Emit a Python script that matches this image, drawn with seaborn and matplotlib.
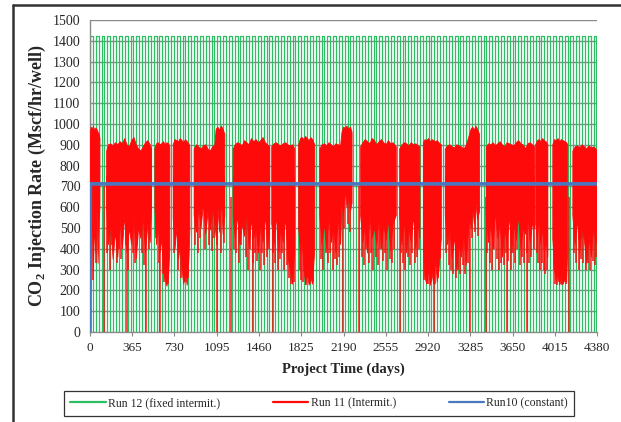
import numpy as np
import pandas as pd
import matplotlib
matplotlib.use("Agg")
import matplotlib.pyplot as plt
from matplotlib.lines import Line2D
import seaborn as sns

# ---------------- data ----------------
x_ticks = [0, 365, 730, 1095, 1460, 1825, 2190, 2555, 2920, 3285, 3650, 4015, 4380]
y_ticks = list(range(0, 1501, 100))

# Run 12: fixed intermittent schedule
green_on_rate = 1425
green_cycle_days = 50
green_on_days = 25
green_end_day = 4380

# Run 10: constant
blue_days = [0, 3, 4380]
blue_rate = [0, 712, 712]

# Run 11: intermittent, band envelope (NaN separates injection periods)
red_day = [
    0, 10, 20, 30, 40, 50, 60, 70, 80, 86, np.nan,
    144, 160, 180, 200, 220, 240, 260, 280, 300, 320, 340, 360, 380, 400, 420, 440, 460, 480, 500, 520, 532, np.nan,
    561, 575, 590, 605, 620, 635, 650, 665, 680, 690, np.nan,
    719, 735, 750, 765, 780, 795, 810, 825, 840, 855, 863, np.nan,
    900, 920, 940, 960, 980, 1000, 1020, 1040, 1060, 1079,
    1090, 1105, 1120, 1135, 1150, 1165, np.nan,
    1237, 1255, 1275, 1295, 1315, 1335, 1355, 1375, 1395, 1415, 1435, 1455, 1475, 1495, 1515, 1535, 1553, np.nan,
    1570, 1590, 1610, 1630, 1650, 1670, 1690, 1710, 1730, 1750, 1769, np.nan,
    1803, 1818, 1833, 1848, 1863, 1878, 1893, 1908, 1923, 1942, np.nan,
    1985, 2005, 2025, 2045, 2065, 2085, 2105, 2125, 2145, 2165, 2177,
    2190, 2205, 2220, 2235, 2250, 2264, np.nan,
    2338, 2358, 2378, 2398, 2418, 2438, 2458, 2478, 2498, 2518, 2538, 2558, 2578, 2598, 2618, 2646, np.nan,
    2675, 2695, 2715, 2735, 2755, 2775, 2795, 2815, 2835, 2850, np.nan,
    2880, 2895, 2910, 2925, 2940, 2955, 2970, 2985, 3000, 3015, 3035, np.nan,
    3069, 3089, 3109, 3129, 3149, 3169, 3189, 3209, 3229, 3249, 3279,
    3292, 3306, 3320, 3334, 3348, 3365, np.nan,
    3423, 3443, 3463, 3483, 3503, 3523, 3543, 3563, 3583, 3603, 3623, 3643, 3663, 3683, 3703, 3723, 3743, 3763, 3783, 3803, 3823, 3840, np.nan,
    3850, 3865, 3880, 3895, 3910, 3925, 3940, 3955, np.nan,
    3998, 4013, 4028, 4043, 4058, 4073, 4088, 4103, 4118, 4127, np.nan,
    4171, 4191, 4211, 4231, 4251, 4271, 4291, 4311, 4331, 4351, 4371, 4380,
]
red_hi = [
    940, 985, 975, 990, 970, 980, 975, 960, 950, 930, np.nan,
    870, 900, 905, 895, 910, 900, 915, 905, 930, 900, 890, 920, 935, 900, 880, 870, 890, 910, 920, 900, 880, np.nan,
    880, 905, 910, 900, 905, 915, 900, 910, 905, 890, np.nan,
    900, 925, 920, 915, 930, 920, 910, 925, 915, 905, 890, np.nan,
    880, 900, 890, 880, 895, 900, 880, 870, 890, 900,
    975, 985, 970, 990, 975, 950, np.nan,
    880, 900, 910, 905, 895, 920, 910, 900, 930, 915, 925, 910, 920, 935, 910, 900, 890, np.nan,
    890, 905, 910, 900, 895, 905, 910, 900, 895, 900, 880, np.nan,
    900, 930, 935, 925, 940, 930, 920, 935, 925, 900, np.nan,
    880, 900, 905, 895, 910, 900, 890, 905, 900, 895, 960,
    985, 980, 990, 975, 985, 960, np.nan,
    890, 910, 925, 915, 905, 930, 920, 900, 915, 925, 910, 900, 920, 905, 910, 890, np.nan,
    880, 900, 910, 905, 895, 910, 900, 905, 895, 890, np.nan,
    910, 925, 920, 930, 915, 925, 920, 915, 920, 910, 900, np.nan,
    880, 895, 900, 890, 885, 900, 895, 890, 880, 895, 950,
    975, 985, 970, 990, 975, 950, np.nan,
    890, 905, 900, 910, 895, 905, 915, 900, 890, 910, 905, 900, 895, 910, 920, 905, 900, 880, 905, 910, 900, 890, np.nan,
    900, 920, 925, 915, 930, 920, 915, 900, np.nan,
    900, 925, 920, 930, 915, 925, 920, 915, 910, 900, np.nan,
    870, 890, 895, 885, 900, 890, 880, 895, 885, 890, 880, 870,
]
red_lo = [
    700, 420, 560, 300, 520, 380, 600, 330, 540, 600, np.nan,
    600, 420, 520, 350, 480, 360, 540, 400, 560, 380, 500, 420, 560, 350, 500, 450, 560, 380, 520, 430, 600, np.nan,
    600, 420, 520, 380, 450, 300, 250, 220, 280, 400, np.nan,
    550, 400, 500, 350, 420, 300, 230, 280, 225, 350, 500, np.nan,
    560, 480, 600, 500, 620, 470, 580, 490, 600, 520,
    460, 600, 480, 650, 470, 560, np.nan,
    550, 450, 560, 420, 520, 460, 580, 400, 540, 450, 500, 380, 520, 430, 560, 400, 520, np.nan,
    520, 420, 560, 380, 500, 430, 550, 360, 300, 230, 400, np.nan,
    500, 380, 450, 300, 230, 280, 225, 260, 230, 400, np.nan,
    560, 420, 520, 400, 560, 430, 500, 380, 550, 420, 620,
    560, 680, 600, 650, 580, 620, np.nan,
    560, 430, 520, 380, 560, 450, 500, 420, 560, 400, 520, 440, 540, 390, 520, 560, np.nan,
    560, 420, 540, 380, 500, 430, 560, 400, 520, 450, np.nan,
    400, 260, 230, 300, 225, 280, 230, 350, 240, 300, 450, np.nan,
    560, 420, 500, 350, 460, 300, 420, 360, 480, 320, 560,
    500, 600, 520, 620, 540, 580, np.nan,
    560, 430, 520, 400, 580, 450, 520, 360, 500, 420, 560, 380, 520, 440, 560, 400, 500, 470, 560, 430, 520, 500, np.nan,
    520, 450, 560, 420, 500, 380, 440, 360, np.nan,
    450, 300, 240, 280, 225, 300, 230, 260, 240, 400, np.nan,
    560, 420, 540, 380, 500, 440, 330, 460, 360, 500, 420, 480,
]
# Run 11 narrow downward spikes within injection periods
red_spike_day = [
    5, 25, 55,
    150, 170, 190, 230, 250, 270, 310, 330, 370, 390, 410, 450, 470, 510,
    568, 598, 628, 642, 672,
    727, 758, 788, 818, 848,
    910, 930, 950, 990, 1030, 1050, 1070,
    1098, 1128, 1158,
    1245, 1265, 1285, 1305, 1345, 1365, 1385, 1405, 1425, 1445, 1465, 1485, 1505, 1525, 1545,
    1580, 1600, 1620, 1640, 1660, 1680, 1700, 1720, 1740, 1760,
    1810, 1825, 1840, 1870, 1900, 1930,
    1995, 2015, 2035, 2055, 2075, 2095, 2115, 2135, 2155,
    2198, 2228, 2243,
    2348, 2368, 2388, 2408, 2428, 2448, 2468, 2488, 2508, 2528, 2548, 2568, 2588, 2608, 2630,
    2685, 2705, 2725, 2745, 2765, 2785, 2805, 2825, 2842,
    2888, 2918, 2948, 2978, 3008, 3025,
    3079, 3099, 3119, 3139, 3159, 3179, 3199, 3219, 3239, 3262,
    3299, 3327, 3355,
    3433, 3453, 3473, 3493, 3513, 3533, 3553, 3573, 3593, 3613, 3633, 3653, 3673, 3693, 3713, 3733, 3753, 3773, 3793, 3813, 3832,
    3858, 3873, 3888, 3903, 3918, 3933, 3948,
    4005, 4020, 4035, 4050, 4065, 4080, 4095, 4110,
    4181, 4201, 4221, 4241, 4261, 4281, 4301, 4321, 4341, 4361, 4375,
]
red_spike_low = [
    300, 250, 330,
    380, 300, 420, 330, 400, 350, 420, 300, 380, 330, 420, 380, 320, 400,
    450, 330, 280, 240, 230,
    380, 300, 260, 240, 260,
    420, 380, 450, 400, 420, 390, 450,
    420, 380, 430,
    400, 380, 330, 420, 360, 300, 400, 330, 380, 340, 300, 380, 320, 360, 400,
    380, 330, 300, 350, 380, 300, 320, 260, 230, 240,
    300, 250, 240, 225, 230, 240,
    350, 300, 380, 330, 380, 300, 350, 320, 360,
    500, 520, 480,
    360, 320, 400, 330, 380, 300, 360, 320, 400, 340, 380, 300, 350, 330, 400,
    380, 330, 300, 360, 320, 380, 330, 360, 400,
    250, 230, 240, 230, 260, 350,
    380, 320, 300, 280, 260, 300, 280, 320, 280, 330,
    450, 480, 460,
    380, 330, 300, 400, 350, 300, 330, 320, 380, 340, 300, 380, 330, 400, 320, 360, 330, 380, 330, 360, 400,
    380, 330, 300, 330, 300, 280, 300,
    300, 230, 225, 240, 230, 225, 240, 230,
    380, 330, 300, 350, 330, 300, 330, 300, 340, 320, 360,
]
# Run 11 shut-in drops to zero
red_drop_day = [121, 324, 480, 604, 1096, 1222, 1407, 1578, 2182, 2321, 2675,
                2968, 3279, 3417, 3603, 3772, 4142]
red_drop_top = [700, 600, 600, 600, 600, 650, 600, 600, 650, 700, 600,
                600, 600, 650, 600, 600, 650]

labels = ["Run 12 (fixed intermit.)", "Run 11 (Intermit.)", "Run10 (constant)"]
c_green = "#2DBE63"
c_red = "#FF0A0A"
c_blue = "#4A78BE"

# ---------------- build green step schedule ----------------
g_t, g_v = [], []
for start in range(0, green_end_day, green_cycle_days):
    stop = min(start + green_on_days, green_end_day)
    g_t += [start, start, stop, stop]
    g_v += [0, green_on_rate, green_on_rate, 0]
green_df = pd.DataFrame({"day": g_t, "rate": g_v})
blue_df = pd.DataFrame({"day": blue_days, "rate": blue_rate})

# ---------------- style ----------------
sns.set_theme(style="white")
plt.rcParams["font.family"] = ["Liberation Serif", "DejaVu Serif"]
plt.rcParams["mathtext.fontset"] = "custom"
plt.rcParams["mathtext.rm"] = "Liberation Serif"
plt.rcParams["mathtext.bf"] = "Liberation Serif:bold"

fig = plt.figure(figsize=(6.21, 4.22), dpi=100)
ax = fig.add_axes([0.1449, 0.2133, 0.8165, 0.7393])

# gridlines
for yv in y_ticks[1:]:
    ax.axhline(yv, color="#8A8A8A", lw=1.0, zorder=0)

sns.lineplot(data=green_df, x="day", y="rate", ax=ax, color=c_green, lw=0.9,
             estimator=None, sort=False, zorder=2)

rd = np.array(red_day, dtype=float)
rh = np.array(red_hi, dtype=float)
rl = np.array(red_lo, dtype=float)
ax.vlines(red_drop_day, 0, red_drop_top, color=c_red, lw=1.2, alpha=0.85, zorder=3)
ax.fill_between(rd, rl, rh, color=c_red, lw=0.6, edgecolor=c_red, zorder=4)
ax.vlines(red_spike_day, red_spike_low, 750, color=c_red, lw=1.1, zorder=4)

sns.lineplot(data=blue_df, x="day", y="rate", ax=ax, color=c_blue, lw=2.6,
             estimator=None, sort=False, zorder=5)

ax.set_xlim(0, 4380)
ax.set_ylim(0, 1500)
ax.set_xticks(x_ticks)
ax.set_xticklabels([str(t) for t in x_ticks], fontsize=9.5)
ax.set_yticks(y_ticks)
ax.set_yticklabels([str(t) for t in y_ticks], fontsize=10)
ax.tick_params(axis="x", length=3, width=0.8, color="#8A8A8A", pad=4, direction="out", bottom=True)
ax.tick_params(axis="y", length=0, pad=7)
for s in ["top", "right"]:
    ax.spines[s].set_visible(False)
for s in ["left", "bottom"]:
    ax.spines[s].set_color("#8A8A8A")
    ax.spines[s].set_linewidth(1.0)

ax.set_xlabel("Project Time (days)", fontsize=10.5, fontweight="bold", labelpad=6)
ax.set_ylabel(r"CO$_\mathbf{2}$ Injection Rate (Mscf/hr/well)", fontsize=13,
              fontweight="bold", labelpad=3)

handles = [Line2D([], [], color=c, lw=1.6) for c in (c_green, c_red, c_blue)]
leg = fig.legend(handles, labels, loc="lower left", ncol=3, mode="expand",
                 bbox_to_anchor=(0.103, 0.014, 0.822, 0.056), fontsize=8.5,
                 frameon=True, fancybox=False, edgecolor="#000000",
                 handlelength=3.0, handletextpad=0.2, borderpad=0.55,
                 borderaxespad=0)
leg.get_frame().set_linewidth(0.9)

# outer chart-area border (cropped at right and bottom)
fig.add_artist(Line2D([0.021, 1.0], [0.988, 0.988], transform=fig.transFigure,
                      color="#333333", lw=1.8))
fig.add_artist(Line2D([0.021, 0.021], [0.0, 0.988], transform=fig.transFigure,
                      color="#333333", lw=1.8))

fig.savefig("out.png", dpi=100)
